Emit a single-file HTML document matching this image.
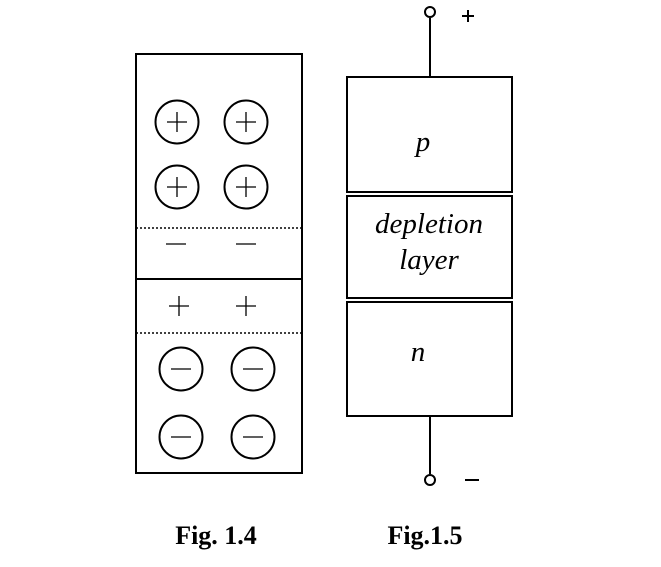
<!DOCTYPE html>
<html><head><style>body{margin:0;background:#fff}</style></head><body>
<svg width="661" height="562" xmlns="http://www.w3.org/2000/svg" font-family="Liberation Serif, serif">
<g fill="none" stroke="#000" stroke-width="2">
<rect x="136" y="54" width="166" height="419"/>
<line x1="136" y1="279" x2="302" y2="279"/>
<circle cx="177" cy="122" r="21.5"/><circle cx="246" cy="122" r="21.5"/>
<circle cx="177" cy="187" r="21.5"/><circle cx="246" cy="187" r="21.5"/>
<circle cx="181" cy="369" r="21.5"/><circle cx="253" cy="369" r="21.5"/>
<circle cx="181" cy="437" r="21.5"/><circle cx="253" cy="437" r="21.5"/>
<rect x="347" y="77" width="165" height="115"/>
<rect x="347" y="196" width="165" height="102"/>
<rect x="347" y="302" width="165" height="114"/>
<line x1="430" y1="18" x2="430" y2="77"/>
<line x1="430" y1="416" x2="430" y2="474"/>
<circle cx="430" cy="12" r="5"/><circle cx="430" cy="480" r="5"/>
</g>
<g stroke="#000" stroke-width="1.5" stroke-dasharray="2,2">
<line x1="136" y1="228" x2="302" y2="228"/>
<line x1="136" y1="333" x2="302" y2="333"/>
</g>
<g stroke="#000" stroke-width="1.3">
<path d="M167 122h20M177 112v20M236 122h20M246 112v20M167 187h20M177 177v20M236 187h20M246 177v20"/>
<path d="M171 369h20M243 369h20M171 437h20M243 437h20"/>
<path d="M166 244h20M236 244h20"/>
<path d="M169 306h20M179 296v20M236 306h20M246 296v20"/>
</g>
<g stroke="#000" stroke-width="2">
<path d="M462 16h12M468 10v12M465 480h14"/>
</g>
<g font-style="italic" font-size="29" text-anchor="middle">
<text x="423" y="151">p</text>
<text x="429" y="233">depletion</text>
<text x="429" y="269">layer</text>
<text x="418" y="361">n</text>
</g>
<g font-weight="bold" font-size="26" text-anchor="middle">
<text x="216" y="544">Fig. 1.4</text>
<text x="425" y="544">Fig.1.5</text>
</g>
</svg>
</body></html>
